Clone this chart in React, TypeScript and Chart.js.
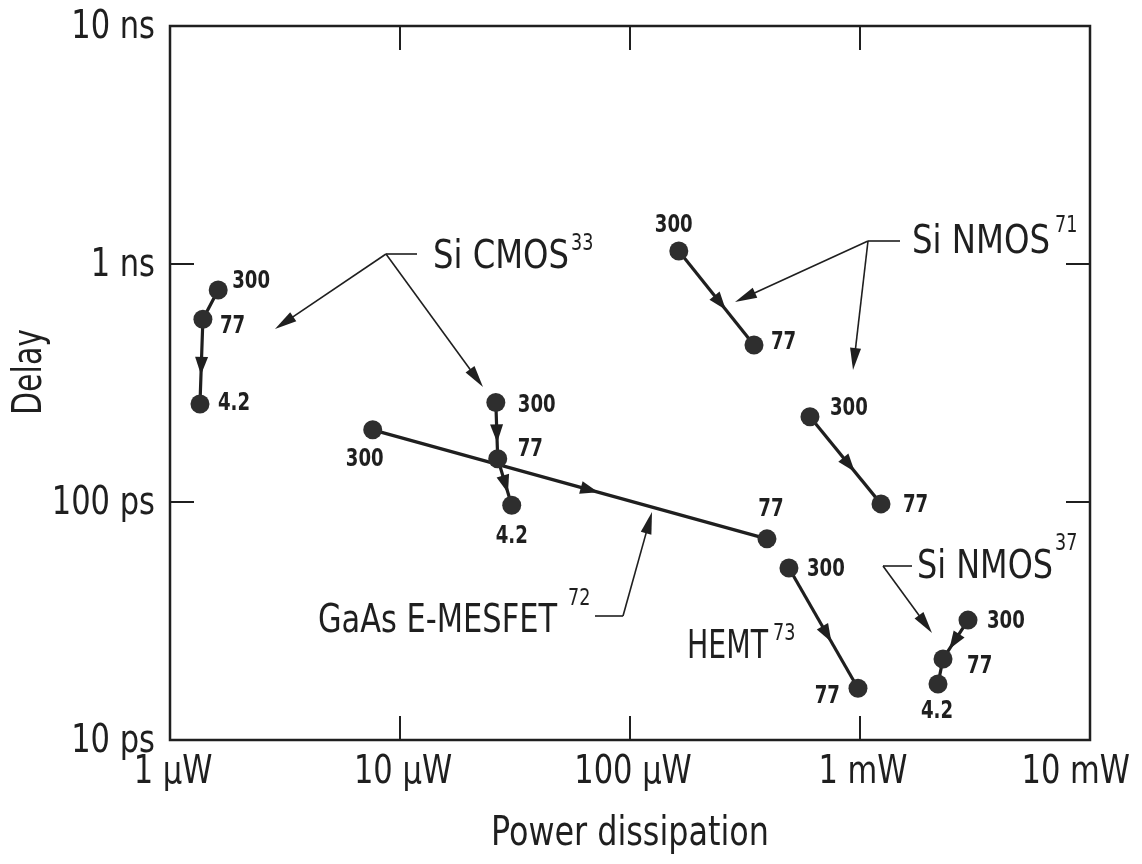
import { useEffect, useRef } from 'react';
import { Chart, registerables } from 'chart.js';

Chart.register(...registerables);

const FONT = '"Liberation Sans Narrow", "DejaVu Sans Condensed", "Arial Narrow", sans-serif';
const INK = '#1f1f1f';
const DOT = '#2e2e2e';

// Axis ticks (power in µW, delay in ps)
const powerTicks = [1, 10, 100, 1000, 10000];
const powerTickLabels = ['1 μW', '10 μW', '100 μW', '1 mW', '10 mW'];
const delayTicks = [10, 100, 1000, 10000];
const delayTickLabels = ['10 ps', '100 ps', '1 ns', '10 ns'];
const innerPowerTicks = [10, 100, 1000];
const innerDelayTicks = [100, 1000];

// Each device: power (µW), gate delay (ps), operating temperature (K)
const cmos33aPower = [1.62, 1.39, 1.35];
const cmos33aDelay = [778, 586, 258];
const cmos33aTemp = ['300', '77', '4.2'];

const cmos33bPower = [26.1, 26.6, 30.6];
const cmos33bDelay = [262, 152, 96.9];
const cmos33bTemp = ['300', '77', '4.2'];

const mesfet72Power = [7.61, 394];
const mesfet72Delay = [201, 70.0];
const mesfet72Temp = ['300', '77'];

const hemt73Power = [491, 980];
const hemt73Delay = [52.8, 16.5];
const hemt73Temp = ['300', '77'];

const nmos71aPower = [163, 346];
const nmos71aDelay = [1135, 457];
const nmos71aTemp = ['300', '77'];

const nmos71bPower = [606, 1234];
const nmos71bDelay = [228, 98.2];
const nmos71bTemp = ['300', '77'];

const nmos37Power = [2948, 2296, 2183];
const nmos37Delay = [31.9, 21.9, 17.2];
const nmos37Temp = ['300', '77', '4.2'];

type Align = 'left' | 'right' | 'center';
type Series = {
  name: string;
  power: number[];
  delay: number[];
  temp: string[];
  arrows: boolean[]; // arrowhead on segment i -> i+1
  labelAt: [number, number, Align][]; // temperature label offset from the dot
};

const series: Series[] = [
  { name: 'Si CMOS 33 a', power: cmos33aPower, delay: cmos33aDelay, temp: cmos33aTemp, arrows: [false, true],
    labelAt: [[14, -8, 'left'], [17, 8, 'left'], [18, 0, 'left']] },
  { name: 'Si CMOS 33 b', power: cmos33bPower, delay: cmos33bDelay, temp: cmos33bTemp, arrows: [true, true],
    labelAt: [[22, 3, 'left'], [20, -9, 'left'], [0, 32, 'center']] },
  { name: 'GaAs E-MESFET 72', power: mesfet72Power, delay: mesfet72Delay, temp: mesfet72Temp, arrows: [true],
    labelAt: [[-8, 30, 'center'], [4, -29, 'center']] },
  { name: 'HEMT 73', power: hemt73Power, delay: hemt73Delay, temp: hemt73Temp, arrows: [true],
    labelAt: [[18, 2, 'left'], [-18, 9, 'right']] },
  { name: 'Si NMOS 71 a', power: nmos71aPower, delay: nmos71aDelay, temp: nmos71aTemp, arrows: [true],
    labelAt: [[-5, -25, 'center'], [17, -2, 'left']] },
  { name: 'Si NMOS 71 b', power: nmos71bPower, delay: nmos71bDelay, temp: nmos71bTemp, arrows: [true],
    labelAt: [[20, -8, 'left'], [22, 2, 'left']] },
  { name: 'Si NMOS 37', power: nmos37Power, delay: nmos37Delay, temp: nmos37Temp, arrows: [true, false],
    labelAt: [[19, 2, 'left'], [24, 8, 'left'], [-1, 28, 'center']] },
];

// Device captions, placed relative to the plot area's top-left corner
const captions = [
  { text: 'Si CMOS', sup: '33', x: 263, y: 242, w: 136, supX: 401, supY: 224 },
  { text: 'Si NMOS', sup: '71', x: 742, y: 227, w: 138, supX: 885, supY: 206 },
  { text: 'Si NMOS', sup: '37', x: 747, y: 552, w: 136, supX: 885, supY: 524 },
  { text: 'GaAs E-MESFET', sup: '72', x: 148, y: 606, w: 239, supX: 398, supY: 579 },
  { text: 'HEMT', sup: '73', x: 517, y: 632, w: 81, supX: 603, supY: 614 },
];

// Leader lines: a short bar ending at a knee, then thin arrows to each tip
const leaders = [
  { bar: [247, 228], knee: [216, 228], tips: [[105, 303], [313, 361]] },
  { bar: [730, 215], knee: [698, 215], tips: [[565, 276], [683, 344]] },
  { bar: [742, 540], knee: [713, 540], tips: [[762, 607]] },
  { bar: [425, 590], knee: [453, 590], tips: [[482, 486]] },
];

function arrowHead(ctx: CanvasRenderingContext2D, tx: number, ty: number, ux: number, uy: number, len: number, half: number) {
  const bx = tx - ux * len;
  const by = ty - uy * len;
  ctx.beginPath();
  ctx.moveTo(tx, ty);
  ctx.lineTo(bx - uy * half, by + ux * half);
  ctx.lineTo(bx + uy * half, by - ux * half);
  ctx.closePath();
  ctx.fill();
}

// condensed lettering: squeeze the text horizontally to a fraction of its natural width
function narrowText(ctx: CanvasRenderingContext2D, text: string, x: number, y: number, squeeze: number) {
  const w = ctx.measureText(text).width;
  ctx.fillText(text, x, y, w * squeeze);
  return w * squeeze;
}

const decorations = {
  id: 'decorations',
  beforeDatasetsDraw(chart: any) {
    const { ctx, chartArea: a, scales } = chart;
    ctx.save();
    ctx.strokeStyle = INK;
    ctx.lineWidth = 2.5;
    ctx.strokeRect(a.left, a.top, a.right - a.left, a.bottom - a.top);
    ctx.lineWidth = 2;
    ctx.beginPath();
    for (const v of innerPowerTicks) {
      const x = scales.x.getPixelForValue(v);
      ctx.moveTo(x, a.bottom); ctx.lineTo(x, a.bottom - 24);
      ctx.moveTo(x, a.top); ctx.lineTo(x, a.top + 24);
    }
    for (const v of innerDelayTicks) {
      const y = scales.y.getPixelForValue(v);
      ctx.moveTo(a.left, y); ctx.lineTo(a.left + 24, y);
      ctx.moveTo(a.right, y); ctx.lineTo(a.right - 24, y);
    }
    ctx.stroke();

    // tick labels in condensed lettering
    ctx.fillStyle = INK;
    ctx.font = `39px ${FONT}`;
    ctx.textBaseline = 'middle';
    ctx.textAlign = 'right';
    delayTicks.forEach((v, i) => {
      narrowText(ctx, delayTickLabels[i], a.left - 15, scales.y.getPixelForValue(v) + 2, 0.87);
    });
    ctx.textAlign = 'center';
    powerTicks.forEach((v, i) => {
      const label = powerTickLabels[i];
      const w = ctx.measureText(label).width * 0.87;
      const x = Math.min(scales.x.getPixelForValue(v) + 3, chart.width - 12 - w / 2);
      narrowText(ctx, label, x, a.bottom + 33, 0.87);
    });
    ctx.restore();
  },
  afterDatasetsDraw(chart: any) {
    const { ctx, chartArea: a } = chart;
    ctx.save();
    ctx.fillStyle = INK;
    ctx.strokeStyle = INK;

    // direction arrows on each trajectory and temperature labels
    series.forEach((s, si) => {
      const pts = chart.getDatasetMeta(si).data;
      s.arrows.forEach((on, i) => {
        if (!on) return;
        const p0 = pts[i], p1 = pts[i + 1];
        const dx = p1.x - p0.x, dy = p1.y - p0.y;
        const d = Math.hypot(dx, dy);
        const ux = dx / d, uy = dy / d;
        const mx = p0.x + dx * 0.55, my = p0.y + dy * 0.55;
        arrowHead(ctx, mx + ux * 9, my + uy * 9, ux, uy, 18, 6.5);
      });
      ctx.font = `bold 24px ${FONT}`;
      ctx.textBaseline = 'middle';
      s.temp.forEach((t, i) => {
        const [ox, oy, al] = s.labelAt[i];
        ctx.textAlign = al;
        narrowText(ctx, t, pts[i].x + ox, pts[i].y + oy, 0.84);
      });
    });

    // leader lines
    ctx.lineWidth = 1.6;
    for (const l of leaders) {
      const kx = a.left + l.knee[0], ky = a.top + l.knee[1];
      ctx.beginPath();
      ctx.moveTo(a.left + l.bar[0], a.top + l.bar[1]);
      ctx.lineTo(kx, ky);
      ctx.stroke();
      for (const t of l.tips) {
        const tx = a.left + t[0], ty = a.top + t[1];
        const dx = tx - kx, dy = ty - ky;
        const d = Math.hypot(dx, dy);
        const ux = dx / d, uy = dy / d;
        ctx.beginPath();
        ctx.moveTo(kx, ky);
        ctx.lineTo(tx - ux * 10, ty - uy * 10);
        ctx.stroke();
        arrowHead(ctx, tx, ty, ux, uy, 22, 5.5);
      }
    }

    // captions with reference superscripts
    ctx.textAlign = 'left';
    ctx.textBaseline = 'alphabetic';
    for (const c of captions) {
      ctx.font = `39px ${FONT}`;
      ctx.fillText(c.text, a.left + c.x, a.top + c.y, c.w);
      ctx.font = `23px ${FONT}`;
      narrowText(ctx, c.sup, a.left + c.supX, a.top + c.supY, 0.85);
    }

    // axis titles
    ctx.font = `40px ${FONT}`;
    ctx.textAlign = 'center';
    ctx.textBaseline = 'alphabetic';
    ctx.fillText('Power dissipation', (a.left + a.right) / 2, 845, 278);
    ctx.textBaseline = 'middle';
    ctx.save();
    ctx.translate(31, 372);
    ctx.rotate(-Math.PI / 2);
    ctx.fillText('Delay', 0, 0, 86);
    ctx.restore();

    ctx.restore();
  },
};

export default function App() {
  const ref = useRef<HTMLCanvasElement>(null);

  useEffect(() => {
    const canvas = ref.current;
    if (!canvas) return;
    const chart = new Chart(canvas, {
      type: 'scatter',
      data: {
        datasets: series.map((s) => ({
          label: s.name,
          data: s.power.map((p, i) => ({ x: p, y: s.delay[i] })),
          showLine: true,
          borderColor: INK,
          borderWidth: 3.2,
          pointRadius: 9.5,
          pointBackgroundColor: DOT,
          pointBorderWidth: 0,
          pointHoverRadius: 9.5,
        })),
      },
      options: {
        animation: false,
        responsive: false,
        devicePixelRatio: 1,
        layout: { padding: { top: 26, right: 52, left: 0, bottom: 0 } },
        plugins: { legend: { display: false }, tooltip: { enabled: false } },
        events: [],
        scales: {
          x: {
            type: 'logarithmic',
            min: 1,
            max: 10000,
            grid: { display: false, drawTicks: false },
            border: { display: false },
            afterBuildTicks: (s: any) => { s.ticks = powerTicks.map((v) => ({ value: v })); },
            afterFit: (s: any) => {
              s.height = 124;
              s.paddingLeft = 0;
              s.paddingRight = 0;
            },
            ticks: { display: false, autoSkip: false },
          },
          y: {
            type: 'logarithmic',
            min: 10,
            max: 10000,
            grid: { display: false, drawTicks: false },
            border: { display: false },
            afterBuildTicks: (s: any) => { s.ticks = delayTicks.map((v) => ({ value: v })); },
            afterFit: (s: any) => {
              s.width = 170;
              s.paddingTop = 0;
              s.paddingBottom = 0;
            },
            ticks: { display: false, autoSkip: false },
          },
        },
      },
      plugins: [decorations],
    } as any);
    return () => chart.destroy();
  }, []);

  return (
    <div style={{ position: 'absolute', left: 0, top: 0, width: 1142, height: 864, background: '#fff' }}>
      <canvas ref={ref} width={1142} height={864} style={{ display: 'block', width: 1142, height: 864 }} />
    </div>
  );
}
